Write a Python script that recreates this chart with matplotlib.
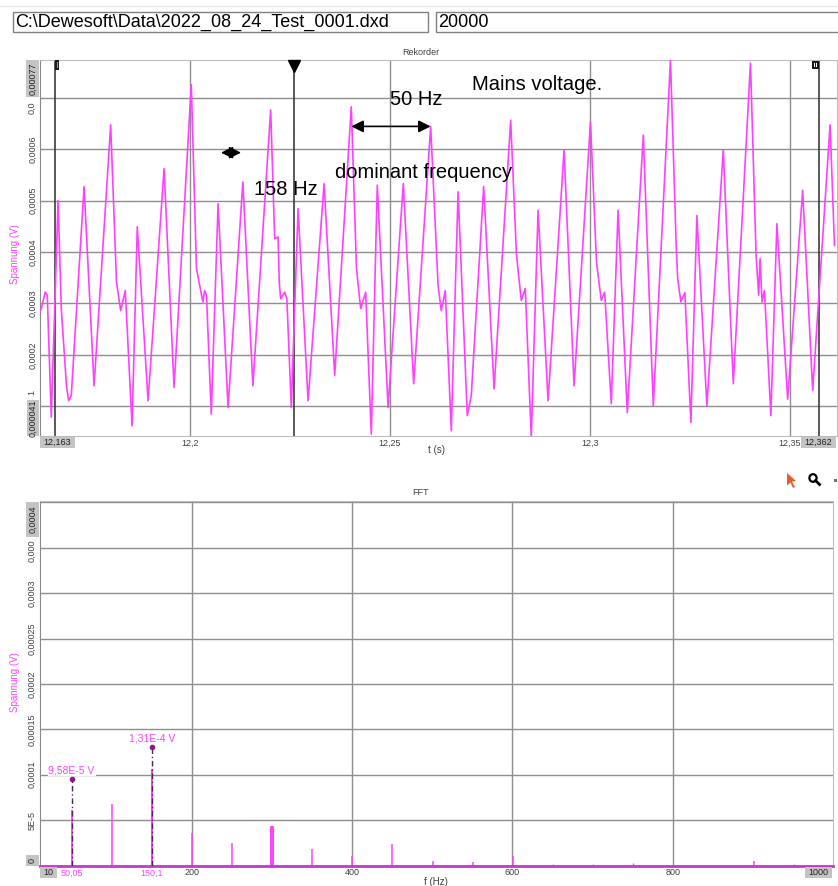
import matplotlib
matplotlib.use('Agg')
from matplotlib import pyplot as plt
from matplotlib.patches import Rectangle, Polygon, Circle
from matplotlib.lines import Line2D
import matplotlib.transforms as mtransforms

plt.rcParams['font.family'] = ['Liberation Sans', 'DejaVu Sans']

W, H = 838, 886

# Rekorder: Spannung über Zeit
sig_t = [12.1621, 12.1625, 12.1629, 12.1639, 12.1644, 12.1654, 12.1671, 12.1679, 12.1692, 12.16975,
         12.1704, 12.1736, 12.1761, 12.18025, 12.1817, 12.18275, 12.1839, 12.1856, 12.1869, 12.1896,
         12.1936, 12.1961, 12.2004, 12.2017, 12.2029, 12.2033, 12.20375, 12.2042, 12.2054, 12.2071,
         12.2096, 12.2133, 12.2158, 12.22025, 12.22125, 12.2221, 12.2224, 12.22275, 12.22375, 12.2243,
         12.2254, 12.2271, 12.2296, 12.2336, 12.23625, 12.2404, 12.2417, 12.24275, 12.2440, 12.2454,
         12.2469, 12.2496, 12.2534, 12.2560, 12.26025, 12.2621, 12.2629, 12.2639, 12.2654, 12.2671,
         12.2694, 12.2704, 12.2735, 12.2761, 12.28025, 12.2817, 12.2829, 12.2839, 12.2854, 12.2871,
         12.2896, 12.2936, 12.2961, 12.3002, 12.3017, 12.3029, 12.30375, 12.3054, 12.3071, 12.3094,
         12.3134, 12.3159, 12.3202, 12.3216, 12.3220, 12.3228, 12.3238, 12.3253, 12.3268, 12.3293,
         12.3334, 12.3359, 12.3402, 12.3416, 12.34225, 12.3426, 12.3431, 12.3437, 12.3453, 12.3468,
         12.3495, 12.35325, 12.35575, 12.3601, 12.3612]
sig_v = [3.00e-4, 2.83e-4, 2.90e-4, 3.22e-4, 3.16e-4, 0.79e-4, 5.00e-4, 2.90e-4, 1.40e-4, 1.11e-4,
         1.21e-4, 5.27e-4, 1.40e-4, 6.47e-4, 3.42e-4, 2.86e-4, 3.25e-4, 0.62e-4, 4.49e-4, 1.11e-4,
         5.62e-4, 1.37e-4, 7.25e-4, 3.68e-4, 3.19e-4, 3.03e-4, 3.25e-4, 3.16e-4, 0.85e-4, 4.94e-4,
         0.98e-4, 5.36e-4, 1.40e-4, 6.76e-4, 4.26e-4, 4.29e-4, 3.40e-4, 3.09e-4, 3.22e-4, 3.09e-4,
         0.98e-4, 4.84e-4, 1.11e-4, 5.33e-4, 1.60e-4, 6.82e-4, 3.68e-4, 2.90e-4, 3.22e-4, 0.46e-4,
         5.30e-4, 0.98e-4, 5.33e-4, 1.44e-4, 6.44e-4, 3.35e-4, 2.86e-4, 3.25e-4, 0.53e-4, 5.17e-4,
         0.82e-4, 1.21e-4, 5.27e-4, 1.34e-4, 6.56e-4, 3.94e-4, 3.06e-4, 3.29e-4, 0.40e-4, 4.81e-4,
         1.11e-4, 5.98e-4, 1.40e-4, 6.53e-4, 3.81e-4, 3.06e-4, 3.22e-4, 1.05e-4, 4.81e-4, 0.88e-4,
         6.27e-4, 1.01e-4, 7.73e-4, 4.19e-4, 3.48e-4, 3.03e-4, 3.21e-4, 0.69e-4, 4.71e-4, 1.01e-4,
         5.98e-4, 1.44e-4, 7.67e-4, 3.94e-4, 3.16e-4, 3.87e-4, 3.03e-4, 3.25e-4, 0.82e-4, 4.55e-4,
         1.14e-4, 5.20e-4, 1.31e-4, 6.47e-4, 4.13e-4]
t_range = [12.16258, 12.36183]
v_range = [0.0000425, 0.000773]
t_ticks = [12.2, 12.25, 12.3, 12.35]
t_ticklabels = ['12,2', '12,25', '12,3', '12,35']
v_ticks = [0.0001, 0.0002, 0.0003, 0.0004, 0.0005, 0.0006, 0.0007]
# 0,0001 und 0,0007 werden von den Endwert-Kästchen fast verdeckt
v_ticklabels = ['', '0,0002', '0,0003', '0,0004', '0,0005', '0,0006', '']
rec_cursors = [12.16633, 12.2260, 12.35733]

# FFT
fft_freq = [50.05, 100.1, 150.1, 200.2, 250.2, 300.3, 350.3, 400.4, 450.4, 500.5,
            550.5, 600.6, 650.6, 700.7, 750.7, 800.8, 900.9, 950.9]
fft_amp = [6.1e-5, 6.8e-5, 1.065e-4, 3.6e-5, 2.5e-5, 4.4e-5, 1.8e-5, 1.1e-5, 2.4e-5, 5.5e-6,
           3.6e-6, 1.1e-5, 1.5e-6, 1.5e-6, 3.3e-6, 1.0e-6, 5.5e-6, 1.5e-6]
fft_lw = [1.3, 1.1, 1.5, 1.1, 1.1, 2.8, 1.1, 1.1, 1.1, 1.1, 1.1, 1.1, 1.0, 1.0, 1.0, 1.0, 1.1, 1.0]
f_range = [10, 1000]
a_range = [0, 4.02e-4]
f_ticks = [200, 400, 600, 800]
f_ticklabels = ['200', '400', '600', '800']
a_ticks = [0, 5e-5, 1e-4, 1.5e-4, 2e-4, 2.5e-4, 3e-4, 3.5e-4, 4e-4]
a_ticklabels = ['', '5E-5', '0,0001', '0,00015', '0,0002', '0,00025', '0,0003', '', '']
cursor_freq = [50.05, 150.1]
cursor_amp = [9.58e-5, 1.31e-4]
cursor_text = ['9,58E-5 V', '1,31E-4 V']
cursor_flabel = ['50,05', '150,1']

MAG = '#ff40ff'
GRID = '#8e8e8e'
TICK = '#404040'


def fx(x):
    return x / W


def fy(y):
    return 1 - y / H


def end_box(x0, y0, x1, y1, label, rotation=0):
    fig.add_artist(Rectangle((fx(x0), fy(y1)), (x1 - x0) / W, (y1 - y0) / H,
                             transform=fig.transFigure, fc='#c4c4c4', ec='none'))
    fig.text(fx((x0 + x1) / 2), fy((y0 + y1) / 2), label, rotation=rotation,
             ha='center', va='center', fontsize=6.5, color='#202020')


def part_label(y, label, va):
    # nur der sichtbare Rest einer verdeckten Achsenbeschriftung
    fig.text(fx(32), fy(y), label, rotation=90, ha='center', va=va, fontsize=6.5, color=TICK)


def style_axes(ax):
    ax.grid(True, color=GRID, lw=1.0)
    ax.set_axisbelow(True)
    ax.tick_params(length=0, labelsize=6.5, labelcolor=TICK, pad=2)
    for lab in ax.get_yticklabels():
        lab.set_rotation(90)
        lab.set_va('center')
    for s in ax.spines.values():
        s.set_color('#bdbdbd')
    ax.spines['left'].set_color('#8a8a8a')


fig = plt.figure(figsize=(W / 100, H / 100), dpi=100)

# Kopfzeile mit Dateiname
fig.add_artist(Line2D([0, 1], [fy(6), fy(6)], color='#e8e8e8', lw=1))
fig.add_artist(Rectangle((fx(13), fy(32)), 415 / W, 20 / H, transform=fig.transFigure,
                         fc='white', ec='#808080', lw=1))
fig.text(fx(15), fy(22.5), 'C:\\Dewesoft\\Data\\2022_08_24_Test_0001.dxd', fontsize=13, va='center')
fig.add_artist(Rectangle((fx(436), fy(32)), 410 / W, 20 / H, transform=fig.transFigure,
                         fc='white', ec='#808080', lw=1))
fig.text(fx(438), fy(22.5), '20000', fontsize=13, va='center')

# ---- Rekorder ----
ax1 = fig.add_axes([fx(40), fy(436), (837 - 40) / W, (436 - 60) / H])
ax1.plot(sig_t, sig_v, color=MAG, lw=1.2, zorder=3)
ax1.set_xlim(t_range)
ax1.set_ylim(v_range)
ax1.set_xticks(t_ticks, t_ticklabels)
ax1.set_yticks(v_ticks, v_ticklabels)
style_axes(ax1)
for t in rec_cursors:
    ax1.axvline(t, color='#3c3c3c', lw=1.2, zorder=2)
blend1 = mtransforms.blended_transform_factory(ax1.transData, ax1.transAxes)
ax1.add_patch(Rectangle((rec_cursors[0], 0.973), 0.0011, 0.027, transform=blend1,
                        fc='#1a1a1a', ec='none', clip_on=False, zorder=5))
ax1.add_patch(Rectangle((rec_cursors[0] + 0.0004, 0.978), 0.0003, 0.017, transform=blend1,
                        fc='#9a9a9a', ec='none', clip_on=False, zorder=6))
ax1.plot([rec_cursors[1]], [0.985], marker='v', ms=8, color='black', transform=blend1,
         clip_on=False, zorder=5)
ax1.add_patch(Rectangle((rec_cursors[2] - 0.0018, 0.977), 0.0018, 0.02, transform=blend1,
                        fc='#1a1a1a', ec='none', clip_on=False, zorder=5))
for dx in (0.0012, 0.0006):
    ax1.add_patch(Rectangle((rec_cursors[2] - dx - 0.0001, 0.981), 0.00022, 0.012, transform=blend1,
                            fc='white', ec='none', clip_on=False, zorder=6))

# Pfeile
ax1.annotate('', xy=(12.2404, 6.44e-4), xytext=(12.26025, 6.44e-4),
             arrowprops=dict(arrowstyle='<|-|>,head_length=0.6,head_width=0.3', color='black',
                             lw=1.2, shrinkA=0, shrinkB=0, mutation_scale=12))
ax1.annotate('', xy=(12.20783, 5.93e-4), xytext=(12.21283, 5.93e-4),
             arrowprops=dict(arrowstyle='<|-|>,head_length=0.6,head_width=0.3', color='black',
                             lw=1.0, shrinkA=0, shrinkB=0, mutation_scale=12))

fig.text(fx(421), fy(52.5), 'Rekorder', fontsize=6.5, color=TICK, ha='center', va='center')
fig.text(fx(15), fy(254), 'Spannung (V)', fontsize=7, color=MAG, rotation=90, ha='center', va='center')
fig.text(fx(436), fy(450), 't (s)', fontsize=7, color=TICK, ha='center', va='center')
fig.text(fx(471.7), fy(90), 'Mains voltage.', fontsize=14.5, va='baseline')
fig.text(fx(390), fy(105), '50 Hz', fontsize=14.5, va='baseline')
fig.text(fx(335.3), fy(178), 'dominant frequency', fontsize=14.5, va='baseline')
fig.text(fx(254), fy(195), '158 Hz', fontsize=14.5, va='baseline')

end_box(40, 437, 75, 447.5, '12,163')
end_box(801, 437, 836, 447.5, '12,362')
end_box(26, 60, 39, 97, '0,00077', rotation=90)
end_box(26.5, 400, 38.5, 436, '0,000041', rotation=90)
part_label(113.5, '0,0', 'bottom')
part_label(390.5, '1', 'top')

# ---- FFT ----
ax2 = fig.add_axes([fx(39.5), fy(865.5), (833 - 39.5) / W, (865.5 - 500.5) / H])
ax2.vlines(fft_freq, 0, fft_amp, colors=MAG, linewidths=fft_lw, zorder=3)
ax2.plot(f_range, [0, 0], color='#c838c8', lw=2.0, zorder=3, clip_on=False)
ax2.vlines(cursor_freq, 0, cursor_amp, colors='#4a2a4a', linestyles=(0, (4, 2, 1, 2)), lw=1.0, zorder=4)
ax2.plot(cursor_freq, cursor_amp, 'o', ms=3, color='#8a1a8a', zorder=5)
for f, a, txt in zip(cursor_freq, cursor_amp, cursor_text):
    ax2.annotate(txt, xy=(f, a), xytext=(0, 2.5), textcoords='offset points', ha='center',
                 va='bottom', color=MAG, fontsize=7.5, zorder=6,
                 bbox=dict(fc='white', ec='none', pad=0.6))
ax2.set_xlim(f_range)
ax2.set_ylim(a_range)
ax2.set_xticks(f_ticks, f_ticklabels)
ax2.set_yticks(a_ticks, a_ticklabels)
style_axes(ax2)
blend2 = mtransforms.blended_transform_factory(ax2.transData, ax2.transAxes)
for f, lab in zip(cursor_freq, cursor_flabel):
    ax2.text(f, -0.008, lab, transform=blend2, ha='center', va='top', fontsize=6.5, color=MAG)

fig.text(fx(420), fy(492.5), 'FFT', fontsize=6.5, color=TICK, ha='center', va='center')
fig.text(fx(15), fy(682), 'Spannung (V)', fontsize=7, color=MAG, rotation=90, ha='center', va='center')
fig.text(fx(436), fy(882), 'f (Hz)', fontsize=7, color=TICK, ha='center', va='center')

end_box(39.5, 867, 56.5, 878, '10')
end_box(805, 867, 832, 878, '1000')
end_box(26, 502, 39, 537, '0,0004', rotation=90)
end_box(26, 855, 39, 866, '0', rotation=90)
part_label(562.5, '0,000', 'bottom')

# Werkzeug-Symbole
arrow_px = [(787, 473), (796, 481), (792, 481.5), (795, 487), (793, 488), (790.5, 482.5), (787, 485.5)]
fig.add_artist(Polygon([(fx(x), fy(y)) for x, y in arrow_px], closed=True,
                       transform=fig.transFigure, fc='#f05a28', ec='none'))
fig.add_artist(Circle((fx(813), fy(478)), 3.6 / W, transform=fig.transFigure,
                      fc='none', ec='black', lw=1.6))
fig.add_artist(Line2D([fx(815.5), fx(819.5)], [fy(480.5), fy(484.5)], color='black', lw=2.0))
fig.add_artist(Rectangle((fx(834), fy(482)), 3 / W, 3 / H, transform=fig.transFigure,
                         fc='#707070', ec='none'))

fig.savefig('out.png', dpi=100)
